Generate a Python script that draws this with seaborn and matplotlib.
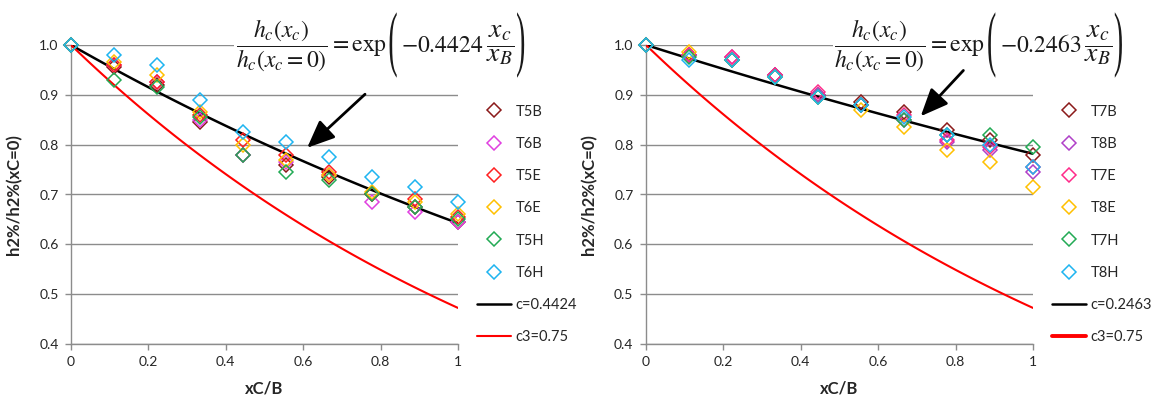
import numpy as np
import pandas as pd
import matplotlib
matplotlib.use("Agg")
import matplotlib.pyplot as plt
import seaborn as sns
from matplotlib.offsetbox import TextArea, HPacker, AnnotationBbox, DrawingArea
from matplotlib.textpath import TextPath
from matplotlib.patches import PathPatch
from matplotlib.font_manager import FontProperties
from matplotlib.transforms import Affine2D

# ---------------- data ----------------
x_pos = [0, 1/9, 2/9, 3/9, 4/9, 5/9, 6/9, 7/9, 8/9, 1]

left_names = ["T5B", "T6B", "T5E", "T6E", "T5H", "T6H"]
T5B = [1.0, 0.955, 0.92, 0.845, 0.78, 0.760, 0.735, 0.700, 0.675, 0.645]
T6B = [1.0, 0.960, 0.925, 0.850, 0.78, 0.765, 0.740, 0.685, 0.665, 0.645]
T5E = [1.0, 0.960, 0.925, 0.860, 0.81, 0.780, 0.745, 0.700, 0.690, 0.655]
T6E = [1.0, 0.965, 0.940, 0.865, 0.80, 0.770, 0.740, 0.705, 0.685, 0.660]
T5H = [1.0, 0.930, 0.915, 0.855, 0.78, 0.745, 0.730, 0.700, 0.675, 0.650]
T6H = [1.0, 0.980, 0.960, 0.890, 0.825, 0.805, 0.775, 0.735, 0.715, 0.685]
left_series = [T5B, T6B, T5E, T6E, T5H, T6H]

right_names = ["T7B", "T8B", "T7E", "T8E", "T7H", "T8H"]
T7B = [1.0, 0.980, 0.970, 0.940, 0.900, 0.885, 0.865, 0.830, 0.810, 0.780]
T8B = [1.0, 0.980, 0.975, 0.940, 0.900, 0.880, 0.850, 0.805, 0.790, 0.745]
T7E = [1.0, 0.980, 0.975, 0.940, 0.905, 0.880, 0.860, 0.810, 0.795, 0.755]
T8E = [1.0, 0.985, 0.970, 0.935, 0.895, 0.870, 0.835, 0.790, 0.765, 0.715]
T7H = [1.0, 0.975, 0.970, 0.935, 0.895, 0.880, 0.850, 0.820, 0.820, 0.795]
T8H = [1.0, 0.970, 0.970, 0.935, 0.895, 0.880, 0.855, 0.820, 0.800, 0.755]
right_series = [T7B, T8B, T7E, T8E, T7H, T8H]

c_left = 0.4424
c_right = 0.2463
c3 = 0.75

x_ticks = [0, 0.2, 0.4, 0.6, 0.8, 1]
x_tick_labels = ["0", "0.2", "0.4", "0.6", "0.8", "1"]
y_ticks = [0.4, 0.5, 0.6, 0.7, 0.8, 0.9, 1.0]
y_tick_labels = ["0.4", "0.5", "0.6", "0.7", "0.8", "0.9", "1.0"]

left_colors = ["#8B1A1A", "#E040E0", "#FF2020", "#FFC000", "#22AA55", "#1EB4F0"]
right_colors = ["#8B1A1A", "#B040C8", "#FF2A8A", "#FFC000", "#22AA55", "#1EB4F0"]

# ---------------- style ----------------
sns.set_theme(style="white")
plt.rcParams["font.family"] = ["Lato", "DejaVu Sans"]
plt.rcParams["mathtext.fontset"] = "stix"

fig = plt.figure(figsize=(11.57, 4.01), dpi=100)
ax_l = fig.add_axes([71/1157, 1-344/401, 387/1157, 299/401])
ax_r = fig.add_axes([646/1157, 1-344/401, 387/1157, 299/401])

EQ_COLOR = "#1a1a1a"


def paren(ch, size=20, stretch=2.6):
    tp = TextPath((0, 0), ch, size=size, prop=FontProperties(family="Liberation Serif"))
    ext = tp.get_extents()
    path = tp.transformed(Affine2D().translate(-ext.x0, -ext.y0).scale(1, stretch))
    da = DrawingArea(ext.width + 1, ext.height * stretch, 0, 0)
    da.add_artist(PathPatch(path, facecolor=EQ_COLOR, edgecolor="none"))
    return da


def equation(ax, c, eq_x):
    fs = 17
    part1 = TextArea(r"$\dfrac{h_c\left(x_c\right)}{h_c\left(x_c=0\right)}=\mathrm{exp}$",
                     textprops=dict(fontsize=fs, color=EQ_COLOR))
    num = TextArea(r"$-%s$" % ("%.4f" % c), textprops=dict(fontsize=fs, color=EQ_COLOR))
    frac = TextArea(r"$\dfrac{x_c}{x_B}$", textprops=dict(fontsize=20, color=EQ_COLOR))
    box = HPacker(children=[part1, paren("("), num, frac, paren(")")],
                  align="center", pad=0, sep=2)
    ab = AnnotationBbox(box, (eq_x, 1.0), xycoords="axes fraction",
                        box_alignment=(0.5, 0.5), frameon=True, pad=0.1,
                        bboxprops=dict(facecolor="white", edgecolor="none"),
                        zorder=6, annotation_clip=False)
    ax.add_artist(ab)


def draw(ax, names, series, colors, c, red_leg_lw, eq_x, c_label, arrow_tail, arrow_head):
    xs_fine = np.linspace(0, 1, 101)
    for name, vals, col in zip(names, series, colors):
        df = pd.DataFrame({"x": x_pos, "y": vals})
        sns.lineplot(data=df, x="x", y="y", ax=ax, marker="D", linestyle="",
                     markerfacecolor="none", markeredgecolor=col, color=col,
                     markeredgewidth=1.1, markersize=7.5, label=name,
                     estimator=None, sort=False, clip_on=False, zorder=4)
    sns.lineplot(x=xs_fine, y=np.exp(-c * xs_fine), ax=ax, color="black",
                 linewidth=1.8, label=c_label, estimator=None, zorder=3)
    sns.lineplot(x=xs_fine, y=np.exp(-c3 * xs_fine), ax=ax, color="#FF0000",
                 linewidth=1.5, label="c3=0.75", estimator=None, zorder=3)

    ax.set_xlim(0, 1)
    ax.set_ylim(0.4, 1.0)
    ax.set_xticks(x_ticks)
    ax.set_xticklabels(x_tick_labels, fontsize=10)
    ax.set_yticks(y_ticks)
    ax.set_yticklabels(y_tick_labels, fontsize=10)
    ax.grid(axis="y", color="#8C8C8C", linewidth=1.0)
    ax.set_axisbelow(True)
    for s in ["top", "right"]:
        ax.spines[s].set_visible(False)
    for s in ["left", "bottom"]:
        ax.spines[s].set_color("#8C8C8C")
        ax.spines[s].set_linewidth(1.0)
    ax.tick_params(axis="both", direction="out", length=4, color="#8C8C8C",
                   width=1.0, pad=5, left=True, bottom=True)
    ax.set_xlabel("xC/B", fontsize=12, fontweight="bold", labelpad=9)
    ax.set_ylabel("h2%/h2%(xC=0)", fontsize=12, fontweight="bold", labelpad=12)

    equation(ax, c, eq_x)
    ax.annotate("", xy=arrow_head, xytext=arrow_tail, xycoords="data",
                arrowprops=dict(arrowstyle="-|>,head_length=1.4,head_width=0.6",
                                color="black", lw=2), zorder=7)

    handles, labels = ax.get_legend_handles_labels()
    leg = ax.legend(handles, labels, loc="center left", bbox_to_anchor=(1.035, 0.40),
                    frameon=False, fontsize=10.5, labelspacing=1.25, handlelength=2.3,
                    handletextpad=0.3, borderaxespad=0)
    leg.get_lines()[-1].set_linewidth(red_leg_lw)


draw(ax_l, left_names, left_series, left_colors, c_left, 1.5, 0.80,
     "c=0.4424", (0.765, 0.905), (0.605, 0.79))
draw(ax_r, right_names, right_series, right_colors, c_right, 2.8, 0.86,
     "c=0.2463", (0.825, 0.953), (0.705, 0.853))

fig.savefig("out.png", dpi=100)
